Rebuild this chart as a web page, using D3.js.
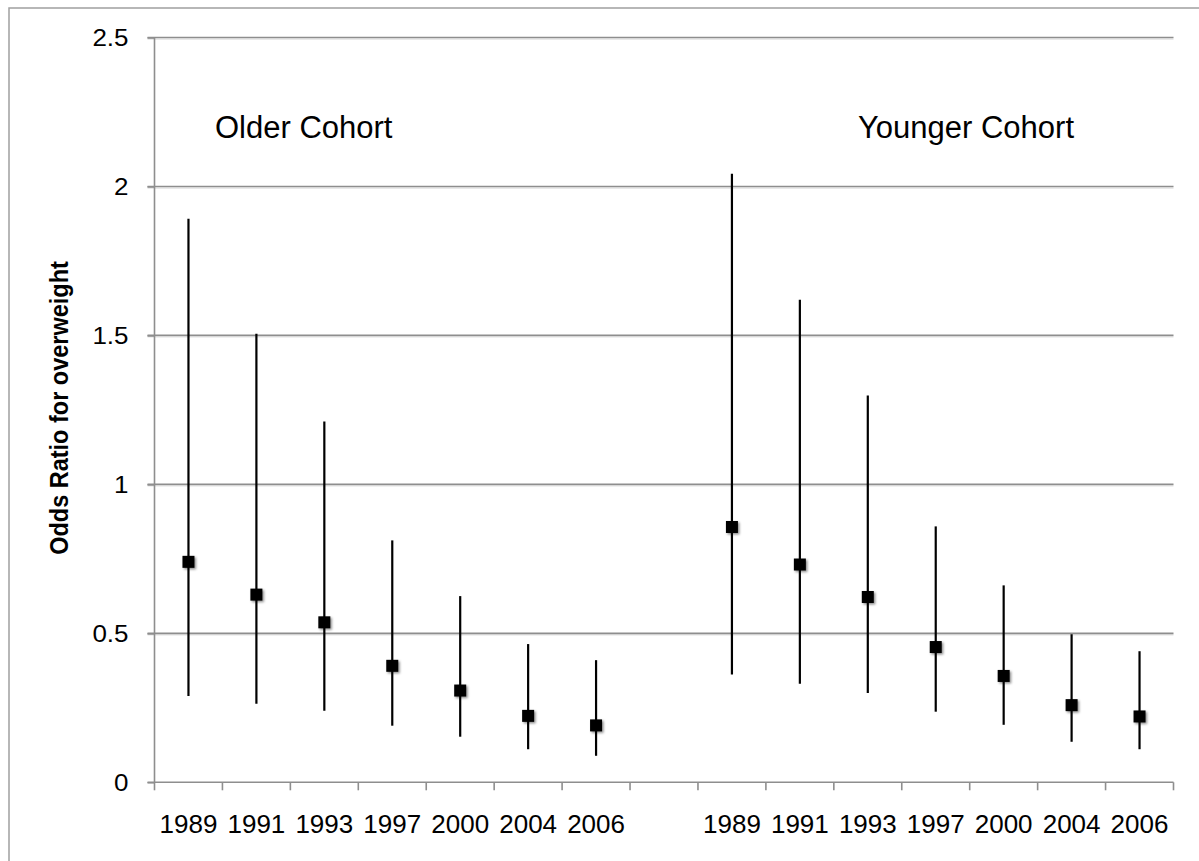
<!DOCTYPE html>
<html>
<head>
<meta charset="utf-8">
<script src="https://cdn.jsdelivr.net/npm/d3@7"></script>
<style>
  html, body { margin: 0; padding: 0; background: #fff; }
  svg { display: block; }
  text { font-family: "Liberation Sans", Arial, Helvetica, sans-serif; fill: #000; }
</style>
</head>
<body>
<svg id="chart" width="1199" height="861"></svg>
<script>
// Survey years shown under each cohort
const years = ["1989", "1991", "1993", "1997", "2000", "2004", "2006"];
const cohorts = ["Older Cohort", "Younger Cohort"];

// Odds ratios with 95% confidence limits, older cohort
const olderOR   = [0.740, 0.630, 0.537, 0.391, 0.308, 0.223, 0.191];
const olderLow  = [0.290, 0.264, 0.240, 0.190, 0.153, 0.111, 0.089];
const olderHigh = [1.892, 1.506, 1.211, 0.812, 0.625, 0.464, 0.410];

// Odds ratios with 95% confidence limits, younger cohort
const youngerOR   = [0.857, 0.731, 0.622, 0.454, 0.357, 0.259, 0.221];
const youngerLow  = [0.362, 0.331, 0.300, 0.237, 0.193, 0.136, 0.111];
const youngerHigh = [2.043, 1.620, 1.298, 0.859, 0.661, 0.497, 0.440];

const yTicks = [0, 0.5, 1, 1.5, 2, 2.5];
const yTickLabels = ["0", "0.5", "1", "1.5", "2", "2.5"];
const yTitle = "Odds Ratio for overweight";

// Category slots: seven older years, an empty spacer, seven younger years
const slots = [
  ...years.map(y => "O" + y),
  "gap",
  ...years.map(y => "Y" + y)
];

const rows = [
  ...years.map((y, i) => ({ slot: "O" + y, or: olderOR[i], lo: olderLow[i], hi: olderHigh[i] })),
  ...years.map((y, i) => ({ slot: "Y" + y, or: youngerOR[i], lo: youngerLow[i], hi: youngerHigh[i] }))
];

const plot = { left: 154.5, right: 1173.5, top: 37.5, bottom: 782.3 };

const svg = d3.select("#chart");

const x = d3.scaleBand().domain(slots).range([plot.left, plot.right]).padding(0);
const y = d3.scaleLinear().domain([0, 2.5]).range([plot.bottom, plot.top]);

const gridColor = "#8e8e8e";

// Soft shadow used under the markers
const defs = svg.append("defs");
const shadow = defs.append("filter").attr("id", "markShadow")
  .attr("x", "-50%").attr("y", "-50%").attr("width", "200%").attr("height", "200%");
shadow.append("feDropShadow")
  .attr("dx", 1.5).attr("dy", 1.5).attr("stdDeviation", 1.3)
  .attr("flood-color", "#000").attr("flood-opacity", 0.45);

// Chart frame
svg.append("rect")
  .attr("x", 9).attr("y", 8).attr("width", 1220).attr("height", 900)
  .attr("fill", "none").attr("stroke", "#a0a0a0").attr("stroke-width", 1.5);

// Horizontal gridlines (with a faint highlight underneath)
const grid = svg.append("g");
grid.selectAll("line.hl").data(yTicks.filter(v => v > 0)).join("line")
  .attr("class", "hl")
  .attr("x1", plot.left - 7).attr("x2", plot.right)
  .attr("y1", d => y(d) + 1.6).attr("y2", d => y(d) + 1.6)
  .attr("stroke", "#e2e2e2").attr("stroke-width", 1.2);
grid.selectAll("line.gl").data(yTicks.filter(v => v > 0)).join("line")
  .attr("class", "gl")
  .attr("x1", plot.left - 7).attr("x2", plot.right)
  .attr("y1", d => y(d)).attr("y2", d => y(d))
  .attr("stroke", gridColor).attr("stroke-width", 1.6);

// Y axis
const yAxis = svg.append("g")
  .attr("transform", `translate(${plot.left},0)`)
  .call(d3.axisLeft(y).tickValues(yTicks)
    .tickFormat((d, i) => yTickLabels[i]).tickSize(7).tickPadding(0));
yAxis.select(".domain").remove();
yAxis.selectAll(".tick line").attr("stroke", gridColor).attr("stroke-width", 1.6);
yAxis.selectAll(".tick text")
  .attr("x", 0).attr("dy", null).attr("dominant-baseline", "central")
  .attr("text-anchor", "end")
  .style("font-size", "23px")
  .attr("transform", "translate(-26,0) scale(1.13,1)");
yAxis.append("line")
  .attr("x1", 0).attr("x2", 0).attr("y1", plot.top).attr("y2", plot.bottom)
  .attr("stroke", gridColor).attr("stroke-width", 1.6);

// X axis: labels centred in slots, ticks on slot boundaries
const xAxis = svg.append("g")
  .attr("transform", `translate(0,${plot.bottom})`)
  .call(d3.axisBottom(x).tickSize(0).tickPadding(0)
    .tickFormat(d => d === "gap" ? "" : d.slice(1)));
xAxis.select(".domain").remove();
xAxis.selectAll(".tick text")
  .attr("y", 51).attr("dy", null)
  .style("font-size", "26px");
const bounds = slots.map(s => x(s)).concat([plot.right]);
xAxis.selectAll("line.bt").data(bounds).join("line")
  .attr("class", "bt")
  .attr("x1", d => d).attr("x2", d => d).attr("y1", 0).attr("y2", 8)
  .attr("stroke", gridColor).attr("stroke-width", 1.6);
xAxis.append("line")
  .attr("x1", plot.left - 7).attr("x2", plot.right).attr("y1", 0).attr("y2", 0)
  .attr("stroke", gridColor).attr("stroke-width", 1.6);

// Y axis title
svg.append("text")
  .attr("transform", `translate(68,408) scale(1.13,1) rotate(-90)`)
  .attr("text-anchor", "middle")
  .style("font-size", "23.5px").style("font-weight", "bold")
  .text(yTitle);

// Confidence interval whiskers
const cx = d => x(d.slot) + x.bandwidth() / 2;
svg.append("g").selectAll("line").data(rows).join("line")
  .attr("x1", cx).attr("x2", cx)
  .attr("y1", d => y(d.hi)).attr("y2", d => y(d.lo))
  .attr("stroke", "#000").attr("stroke-width", 2.2);

// Point estimates
const m = 12;
svg.append("g").attr("filter", "url(#markShadow)")
  .selectAll("rect").data(rows).join("rect")
  .attr("x", d => cx(d) - m / 2).attr("y", d => y(d.or) - m / 2)
  .attr("width", m).attr("height", m)
  .attr("fill", "#000");

// Cohort labels
svg.append("text").attr("x", 215).attr("y", 138)
  .style("font-size", "31px").text(cohorts[0]);
svg.append("text").attr("x", 858).attr("y", 138)
  .style("font-size", "31px").text(cohorts[1]);
</script>
</body>
</html>
